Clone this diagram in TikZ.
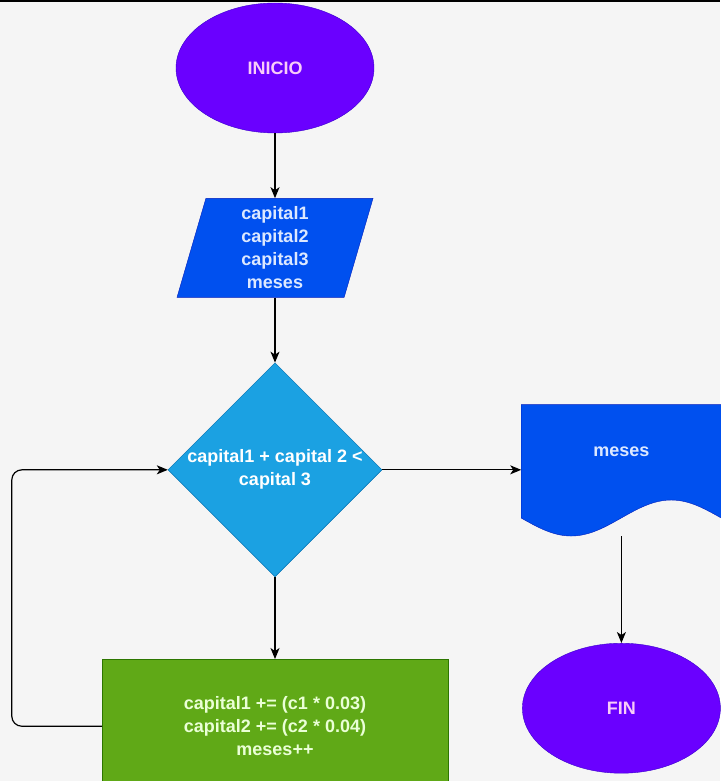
\documentclass[tikz,border=0pt]{standalone}
\usepackage{fontspec}
\setmainfont{Liberation Sans}
\usetikzlibrary{shapes.geometric, arrows.meta, positioning}
\definecolor{gris}{HTML}{F5F5F5}
\definecolor{morado}{HTML}{6A00FF}
\definecolor{moradoborde}{HTML}{3700CC}
\definecolor{azul}{HTML}{0050EF}
\definecolor{azulborde}{HTML}{001DBC}
\definecolor{celeste}{HTML}{1BA1E2}
\definecolor{celesteborde}{HTML}{006EAF}
\definecolor{verde}{HTML}{60A917}
\definecolor{verdeborde}{HTML}{2D7600}
\definecolor{rosa}{HTML}{F8CCF8}
\definecolor{textoazul}{HTML}{DCE8FF}
\definecolor{textoverde}{HTML}{EAFFD6}
\pgfdeclarelayer{fondo}
\pgfdeclarelayer{detras}
\pgfsetlayers{fondo,detras,main}
\tikzstyle{terminal} = [ellipse, draw=moradoborde, fill=morado, text=rosa,
    minimum width=198pt, minimum height=130pt]
\tikzstyle{entrada} = [trapezium, trapezium left angle=72, trapezium right angle=108,
    trapezium stretches body, draw=azulborde, fill=azul, text=textoazul, align=center,
    minimum width=196pt, minimum height=99pt]
\tikzstyle{decision} = [diamond, draw=celesteborde, fill=celeste, text=white, align=center,
    minimum width=214pt, minimum height=214pt, inner sep=-3pt]
\tikzstyle{proceso} = [rectangle, draw=verdeborde, fill=verde, text=textoverde, align=center,
    minimum width=346pt, minimum height=134pt]
\tikzstyle{documento} = [rectangle, text=textoazul, minimum width=200pt,
    minimum height=113pt, text depth=20pt]
\tikzstyle{line} = [draw, line width=1.2pt, -{Stealth[length=11pt, width=9pt, inset=3pt]}]
\begin{document}
\begin{tikzpicture}[x=1pt, y=1pt, node distance=65pt]
\tikzstyle{every node}=[font=\fontsize{18}{23}\selectfont\bfseries]
\begin{pgfonlayer}{fondo}
\fill[gris] (0,0) rectangle (720,-781);
\fill[black] (0,0) rectangle (720,-2);
\end{pgfonlayer}
\useasboundingbox (0,0) rectangle (720,-781);
\node[terminal] (inicio) at (275,-68) {INICIO};
\node[entrada, below=of inicio] (datos) {capital1\\capital2\\capital3\\meses};
\node[decision, below=of datos] (cond) {capital1 + capital 2 <\\capital 3};
\node[proceso, below=82pt of cond] (calculo) {capital1 += (c1 * 0.03)\\capital2 += (c2 * 0.04)\\meses++};
\node[documento, right=139pt of cond, yshift=8.5pt] (salida) {meses};
\node[terminal, below=125pt of salida] (fin) {FIN};
\begin{pgfonlayer}{detras}
\filldraw[draw=azulborde, fill=azul] (salida.south east) -- (salida.north east) -- (salida.north west)
    -- (salida.south west) sin ++(50,-18) cos ++(50,18) sin ++(50,18) cos ++(50,-18) -- cycle;
\end{pgfonlayer}
\path [line] (inicio.south) -- (datos.north);
\path [line] (datos.south) -- (cond.north);
\path [line] (cond.south) -- (calculo.north);
\path [line] (cond.east) -- (cond.east -| salida.west);
\path [line, shorten <=18pt] (salida.south) -- (fin.north);
\path [line, rounded corners=10pt] (calculo.west) -- ++(-90,0) |- (cond.west);
\end{tikzpicture}
\end{document}
